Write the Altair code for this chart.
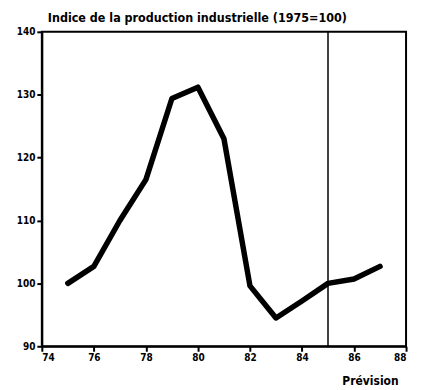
import altair as alt
import pandas as pd

years = [75, 76, 77, 78, 79, 80, 81, 82, 83, 84, 85, 86, 87]
values = [100, 102.7, 110, 116.5, 129.4, 131.2, 123, 99.6, 94.5, 97.2, 100, 100.7, 102.7]
forecast_start = [85]
x_ticks = [74, 76, 78, 80, 82, 84, 86, 88]
y_ticks = [90, 100, 110, 120, 130, 140]
title_text = "Indice de la production industrielle (1975=100)"
xlabel_text = "Prévision"

FONT = "DejaVu Sans Condensed"

df = pd.DataFrame({"year": years, "value": values})
df_rule = pd.DataFrame({"year": forecast_start})

x_scale = alt.Scale(domain=[74, 88], nice=False, zero=False)
y_scale = alt.Scale(domain=[90, 140], nice=False, zero=False)

x_axis = alt.Axis(values=x_ticks, format="d", labelFont=FONT, labelFontSize=10,
                  labelFontWeight="bold", labelColor="black", tickColor="black",
                  tickWidth=2, tickSize=5, domainColor="black", domainWidth=2,
                  grid=False, labelPadding=1, title=xlabel_text,
                  titleFont=FONT, titleFontSize=12, titleFontWeight="bold",
                  titleColor="black", titleX=358, titleY=38, titleAlign="right",
                  titleAnchor="end", titleBaseline="alphabetic")
y_axis = alt.Axis(values=y_ticks, format="d", labelFont=FONT, labelFontSize=10,
                  labelFontWeight="bold", labelColor="black", tickColor="black",
                  tickWidth=2, tickSize=5, domainColor="black", domainWidth=2,
                  grid=False, labelPadding=2, title=None)

line = alt.Chart(df).mark_line(color="black", strokeWidth=5.5, strokeJoin="round",
                               strokeCap="round").encode(
    x=alt.X("year:Q", scale=x_scale, axis=x_axis),
    y=alt.Y("value:Q", scale=y_scale, axis=y_axis),
)

rule = alt.Chart(df_rule).mark_rule(color="black", strokeWidth=1.5).encode(
    x=alt.X("year:Q", scale=x_scale),
)

chart = alt.layer(rule, line).properties(
    width=366,
    height=316,
    autosize=alt.AutoSizeParams(type="none"),
    padding={"left": 34, "top": 23, "right": 10, "bottom": 40},
    title=alt.TitleParams(title_text, font=FONT, fontSize=12.5, fontWeight="bold",
                          color="black", anchor="start", offset=2, dx=6, frame="group"),
).configure(
    background="white",
    view=alt.ViewConfig(stroke="black", strokeWidth=2, strokeOpacity=1),
)

chart.save("out.html", embed_options={"renderer": "svg", "actions": False})
